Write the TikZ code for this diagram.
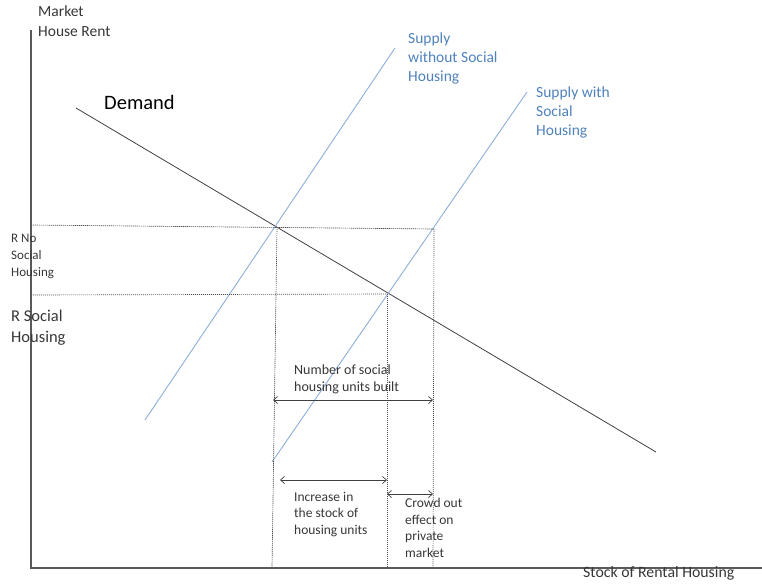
\documentclass[tikz,border=0pt]{standalone}
\usepackage{fontspec}
\setmainfont{Carlito}
\usetikzlibrary{arrows.meta}
\definecolor{txtblue}{RGB}{79,129,189}
\definecolor{suplblue}{RGB}{141,174,216}
\definecolor{axisgray}{RGB}{90,90,90}
\definecolor{labelgray}{RGB}{55,55,55}
\tikzset{
  axisline/.style={draw=axisgray, line width=1.1pt},
  demandline/.style={draw=black!75, line width=0.8pt},
  supplyline/.style={draw=suplblue, line width=0.9pt},
  guide/.style={draw=black!70, dash pattern=on 1.2pt off 0.8pt, line width=0.65pt},
  dimarrow/.style={draw=black!75, line width=0.7pt, {Straight Barb[length=4pt,width=7pt]}-{Straight Barb[length=4pt,width=7pt]}},
  lbl/.style={inner sep=0pt, anchor=north west, align=left, text=labelgray},
  bluelbl/.style={inner sep=0pt, anchor=north west, align=left, text=txtblue, font=\fontsize{15.5}{19}\selectfont},
}
\begin{document}
\begin{tikzpicture}[x=1pt,y=-1pt]
\useasboundingbox (0,0) rectangle (762,584);
% axes
\coordinate (o) at (31,568);
\coordinate (ytop) at (31,30);
\coordinate (xend) at (762,568);
\draw[axisline] (ytop) -- (o) -- (xend);
% curves
\coordinate (d1) at (76,108);
\coordinate (d2) at (656,452);
\draw[demandline] (d1) -- (d2);
\coordinate (s1a) at (145,420);
\coordinate (s1b) at (395,48);
\draw[supplyline] (s1a) -- (s1b);
\coordinate (s2a) at (272,462);
\coordinate (s2b) at (527,92);
\draw[supplyline] (s2a) -- (s2b);
% equilibrium points and guides
\coordinate (e1) at (277,227);
\coordinate (e2) at (387,294);
\coordinate (e3) at (434,229);
\coordinate (y1) at (31,225);
\coordinate (y2) at (31,295);
\coordinate (b1) at (272,568);
\coordinate (b2) at (387,568);
\coordinate (b3) at (433,568);
\draw[guide] (y1) -- (e3);
\draw[guide] (y2) -- (e2);
\draw[guide] (e1) -- (b1);
\draw[guide] (e2) -- (b2);
\draw[guide] (e3) -- (b3);
% dimension arrows
\coordinate (n1) at (273,400);
\coordinate (n2) at (433,400);
\draw[dimarrow] (n1) -- (n2);
\coordinate (i1) at (280,480);
\coordinate (i2) at (387,480);
\draw[dimarrow] (i1) -- (i2);
\coordinate (c1) at (387,494);
\coordinate (c2) at (433,494);
\draw[dimarrow] (c1) -- (c2);
% texts
\node[lbl, font=\fontsize{15.5}{20}\selectfont] (ylab) at (38,6) {Market\\House Rent};
\node[lbl, text=black, font=\fontsize{20.5}{22}\selectfont] (dem) at (104,95) {Demand};
\node[bluelbl] (sup1) at (408,33) {Supply\\without Social\\Housing};
\node[bluelbl] (sup2) at (536,87) {Supply with\\Social\\Housing};
\node[lbl, font=\fontsize{13}{17}\selectfont] (rno) at (11,234) {R No\\Social\\Housing};
\node[lbl, font=\fontsize{16.5}{21}\selectfont] (rsoc) at (11,310) {R Social\\Housing};
\node[lbl, font=\fontsize{14}{16.5}\selectfont] (nlab) at (294,365) {Number of social\\housing units built};
\node[lbl, font=\fontsize{13.5}{16.5}\selectfont] (ilab) at (294,492) {Increase in\\the stock of\\housing units};
\node[lbl, font=\fontsize{13.5}{16.5}\selectfont] (clab) at (405,498) {Crowd out\\effect on\\private\\market};
\node[lbl, font=\fontsize{15.8}{16}\selectfont] (xlab) at (583,566) {Stock of Rental Housing};
\end{tikzpicture}
\end{document}
